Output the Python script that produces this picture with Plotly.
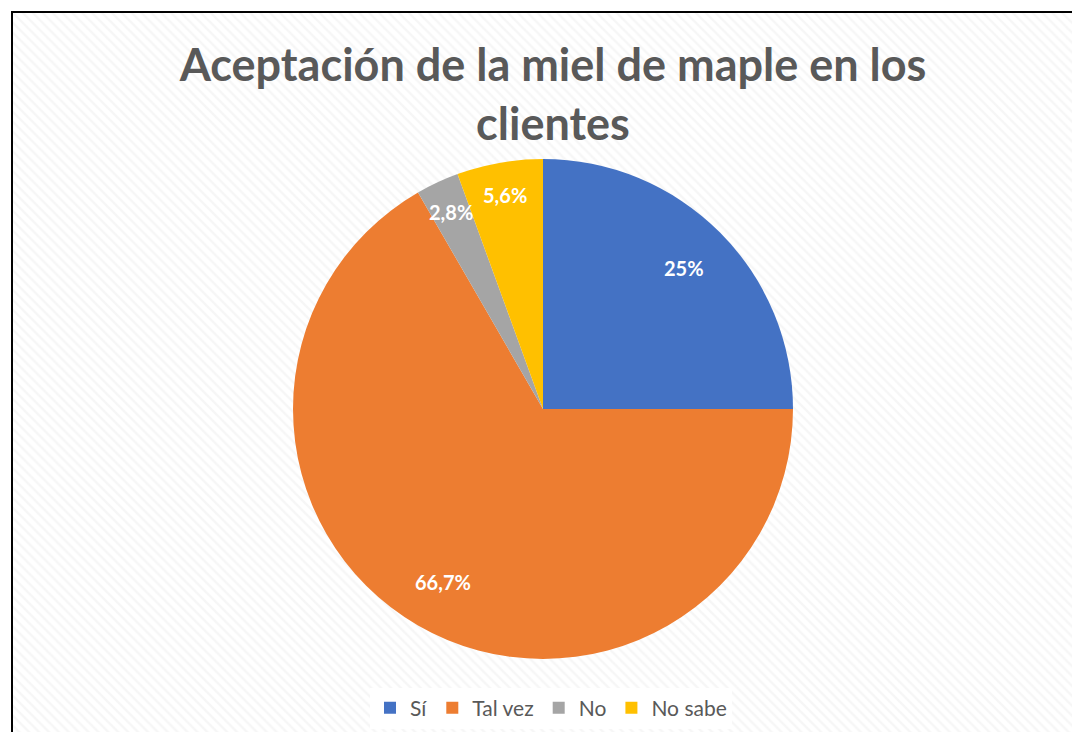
import math
import plotly.graph_objects as go

# ---- data ----
categories = ["Sí", "Tal vez", "No", "No sabe"]
counts = [9, 24, 1, 2]
label_texts = ["25%", "66,7%", "2,8%", "5,6%"]
colors = ["#4472C4", "#ED7D31", "#A5A5A5", "#FFC000"]
title_text = "Aceptación de la miel de maple en los<br>clientes"

OFF = 8  # page body margin offset
W, H = 1080 - 2 * OFF, 740 - 2 * OFF
FONT = "Lato"
GRAY = "#595959"


def px_x(x):
    return (x - OFF) / W


def px_y(y):
    return 1 - (y - OFF) / H


# pie placement (pixels in screenshot)
cx_px, cy_px, r_px = 543, 409, 250
dom_x = [px_x(cx_px - r_px), px_x(cx_px + r_px)]
dom_y = [px_y(cy_px + r_px), px_y(cy_px - r_px)]

fig = go.Figure()

# hatched background via a patterned bar on a hidden axis (overflows, clipped)
fig.add_trace(go.Bar(
    x=[0], y=[3], base=[-1], width=[3], xaxis="x", yaxis="y",
    marker=dict(color="white", line=dict(width=0),
                pattern=dict(shape="\\", fgcolor="#EEEEEE", bgcolor="white",
                             size=7, solidity=0.35)),
    showlegend=False, hoverinfo="skip",
))

fig.add_trace(go.Pie(
    labels=categories, values=counts, sort=False, direction="clockwise",
    rotation=0, marker=dict(colors=colors, line=dict(width=0)),
    textinfo="none", domain=dict(x=dom_x, y=dom_y),
    hoverinfo="label+percent",
))

# data labels positioned from the slice mid-angles
total = sum(counts)
cum = 0
annotations = []
for v, t in zip(counts, label_texts):
    mid = (cum + v / 2) / total * 2 * math.pi
    cum += v
    frac = 0.8 if v / total >= 0.1 else 0.87
    px = cx_px + r_px * frac * math.sin(mid)
    py = cy_px - r_px * frac * math.cos(mid)
    annotations.append(dict(
        x=px_x(px), y=px_y(py), xref="paper", yref="paper", text=t,
        showarrow=False, xanchor="center", yanchor="middle",
        font=dict(family=FONT, size=20, color="white", weight="bold"),
    ))

border = dict(color="black", width=2)
fig.update_layout(
    width=W, height=H,
    margin=dict(l=0, r=0, t=0, b=0),
    paper_bgcolor="white", plot_bgcolor="white",
    xaxis=dict(domain=[px_x(13), 1], range=[-0.5, 0.5], visible=False, fixedrange=True),
    yaxis=dict(domain=[0, px_y(13)], range=[0, 1], visible=False, fixedrange=True),
    title=dict(text=title_text, x=px_x(553), xanchor="center", y=px_y(81), yanchor="middle",
               font=dict(family=FONT, size=45, color=GRAY, weight="bold")),
    legend=dict(orientation="h", x=px_x(551), xanchor="center", y=px_y(708), yanchor="middle",
                bgcolor="white", font=dict(family=FONT, size=21, color=GRAY),
                traceorder="normal"),
    annotations=annotations,
    shapes=[
        dict(type="line", xref="paper", yref="paper",
             x0=px_x(12), x1=px_x(12), y0=0, y1=px_y(11), line=border, layer="above"),
        dict(type="line", xref="paper", yref="paper",
             x0=px_x(11), x1=1, y0=px_y(12), y1=px_y(12), line=border, layer="above"),
    ],
    bargap=0,
)

fig.write_html("out.html")
